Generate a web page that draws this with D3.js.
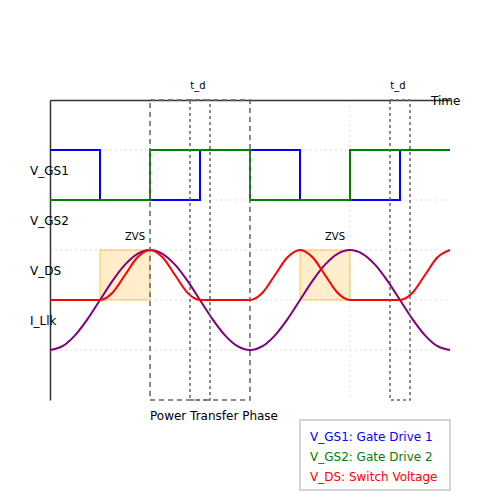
<!DOCTYPE html>
<html>
<head>
<meta charset="utf-8">
<script src="https://cdn.jsdelivr.net/npm/d3@7"></script>
<style>
body { margin: 0; background: #fff; }
text { font-family: "DejaVu Sans", sans-serif; }
</style>
</head>
<body>
<div class="container"></div>
<script>
const WIDTH = 500, HEIGHT = 500;

// time axis in half-periods, signal levels
var tSteps = d3.range(0, 8.001, 0.25);
var gs1Steps = [[0, 5], [1, 5], [1, 4], [3, 4], [3, 5], [5, 5], [5, 4], [7, 4], [7, 5], [8, 5]];
var gs2Steps = [[0, 4], [2, 4], [2, 5], [4, 5], [4, 4], [6, 4], [6, 5], [8, 5]];
var vdsValues = [2, 2, 2, 2, 2, 2.146, 2.5, 2.854, 3, 2.854, 2.5, 2.146, 2, 2, 2, 2, 2,
    2.146, 2.5, 2.854, 3, 2.854, 2.5, 2.146, 2, 2, 2, 2, 2, 2.146, 2.5, 2.854, 3];
var ilkValues = [1, 1.076, 1.293, 1.617, 2, 2.383, 2.707, 2.924, 3, 2.924, 2.707, 2.383, 2, 1.617, 1.293, 1.076,
    1, 1.076, 1.293, 1.617, 2, 2.383, 2.707, 2.924, 3, 2.924, 2.707, 2.383, 2, 1.617, 1.293, 1.076, 1];
var signalLabels = [['V_GS1', 4.6], ['V_GS2', 3.6], ['V_DS', 2.6], ['I_Llk', 1.6]];
var gridY = [5, 4, 3, 2, 1];
var gridX = [2, 4, 6];
var zvsBoxes = [[1, 2], [5, 6]];
var tdBoxes = [[2.8, 3.2], [6.8, 7.2]];
var powerBox = [2, 4];
var legendItems = [['V_GS1: Gate Drive 1', 'blue'], ['V_GS2: Gate Drive 2', 'green'], ['V_DS: Switch Voltage', 'red']];

var x = d3.scaleLinear().domain([0, 8]).range([50, 450]);
var y = d3.scaleLinear().domain([0, 6]).range([400, 100]);

var svg = d3.select('.container').append('svg')
    .attr('width', WIDTH)
    .attr('height', HEIGHT);

// grid
svg.selectAll('.gy').data(gridY).enter().append('line')
    .attr('x1', x(0)).attr('x2', x(8))
    .attr('y1', d => y(d)).attr('y2', d => y(d))
    .attr('stroke', '#ddd').attr('stroke-dasharray', '2,3');
svg.selectAll('.gx').data(gridX).enter().append('line')
    .attr('x1', d => x(d)).attr('x2', d => x(d))
    .attr('y1', y(6)).attr('y2', y(0))
    .attr('stroke', '#ddd').attr('stroke-dasharray', '2,3');

// axes
svg.append('g').attr('transform', 'translate(0,' + y(6) + ')')
    .call(d3.axisTop(x).ticks(0).tickSizeOuter(0))
    .select('.domain').attr('stroke', '#333').attr('stroke-width', 1.5);
svg.append('g').attr('transform', 'translate(' + x(0) + ',0)')
    .call(d3.axisLeft(y).ticks(0).tickSizeOuter(0))
    .select('.domain').attr('stroke', '#333').attr('stroke-width', 1.5);

// ZVS shading
svg.selectAll('.zvs').data(zvsBoxes).enter().append('rect')
    .attr('x', d => x(d[0])).attr('width', d => x(d[1]) - x(d[0]))
    .attr('y', y(3)).attr('height', y(2) - y(3))
    .attr('fill', 'orange').attr('fill-opacity', 0.2)
    .attr('stroke', 'orange').attr('stroke-opacity', 0.6);
svg.selectAll('.zvsl').data(zvsBoxes).enter().append('text')
    .attr('x', d => x((d[0] + d[1]) / 2) + 10).attr('y', y(3) - 10)
    .attr('text-anchor', 'middle').attr('font-size', 10).text('ZVS');

var step = d3.line().x(d => x(d[0])).y(d => y(d[1]));
svg.append('path').attr('d', step(gs1Steps))
    .attr('fill', 'none').attr('stroke', 'blue').attr('stroke-width', 2);
svg.append('path').attr('d', step(gs2Steps))
    .attr('fill', 'none').attr('stroke', 'green').attr('stroke-width', 2);

var smooth = d3.line().x((d, i) => x(tSteps[i])).y(d => y(d)).curve(d3.curveMonotoneX);
svg.append('path').attr('d', smooth(ilkValues))
    .attr('fill', 'none').attr('stroke', 'purple').attr('stroke-width', 2);
svg.append('path').attr('d', smooth(vdsValues))
    .attr('fill', 'none').attr('stroke', 'red').attr('stroke-width', 2);

// power transfer phase box
svg.append('rect')
    .attr('x', x(powerBox[0])).attr('width', x(powerBox[1]) - x(powerBox[0]))
    .attr('y', y(6)).attr('height', y(0) - y(6))
    .attr('fill', 'none').attr('stroke', '#666').attr('stroke-width', 1.5)
    .attr('stroke-dasharray', '5,4');
svg.append('text')
    .attr('x', x(3) + 14).attr('y', y(0) + 20)
    .attr('text-anchor', 'middle').attr('font-size', 12).text('Power Transfer Phase');

// dead time boxes
svg.selectAll('.td').data(tdBoxes).enter().append('rect')
    .attr('x', d => x(d[0])).attr('width', d => x(d[1]) - x(d[0]))
    .attr('y', y(6)).attr('height', y(0) - y(6))
    .attr('fill', 'none').attr('stroke', '#666').attr('stroke-width', 1.5)
    .attr('stroke-dasharray', '3,3');
svg.selectAll('.tdl').data(tdBoxes).enter().append('text')
    .attr('x', d => x((d[0] + d[1]) / 2) - 2).attr('y', y(6) - 11)
    .attr('text-anchor', 'middle').attr('font-size', 10).text('t_d');

// signal labels
svg.selectAll('.sl').data(signalLabels).enter().append('text')
    .attr('x', 30).attr('y', d => y(d[1]) + 5)
    .attr('font-size', 12).text(d => d[0]);
svg.append('text').attr('x', 431).attr('y', 105).attr('font-size', 12).text('Time');

// legend
var lg = svg.append('g').attr('transform', 'translate(300,420)');
lg.append('rect').attr('width', 150).attr('height', 70)
    .attr('fill', 'white').attr('stroke', '#aaa');
lg.selectAll('text').data(legendItems).enter().append('text')
    .attr('x', 10).attr('y', (d, i) => 21 + i * 20)
    .attr('font-size', 12).attr('fill', d => d[1]).text(d => d[0]);
</script>
</body>
</html>
